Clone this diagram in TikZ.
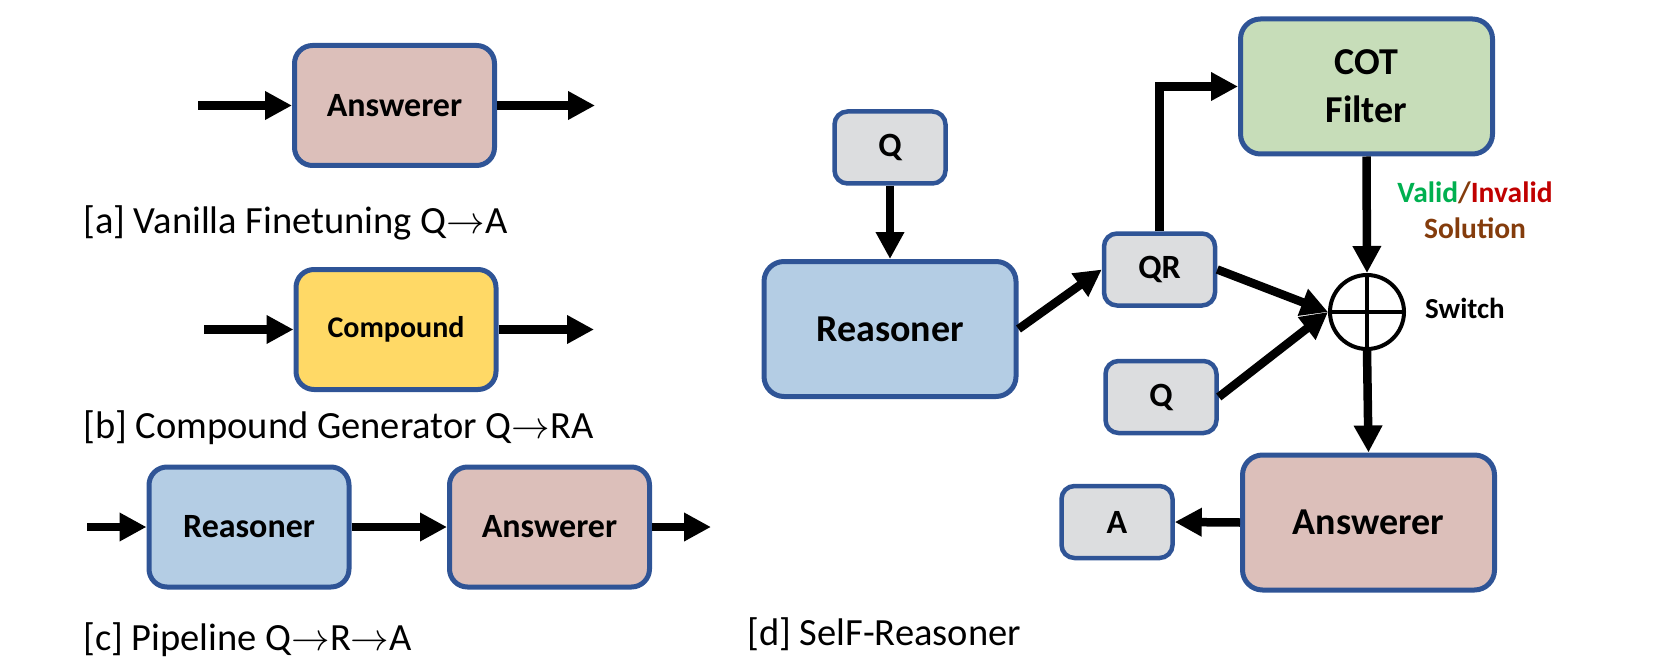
\RequirePackage{fix-cm}
\documentclass[tikz,border=0pt]{standalone}
\usepackage{fontspec}
\setmainfont{Carlito}
\usetikzlibrary{arrows.meta,calc}
\definecolor{bord}{HTML}{2F5496}
\definecolor{ansfill}{HTML}{DCBFBA}
\definecolor{compfill}{HTML}{FFD966}
\definecolor{reasfill}{HTML}{B4CDE4}
\definecolor{cotfill}{HTML}{C7DDB9}
\definecolor{grayfill}{HTML}{DCDDDF}
\definecolor{vgreen}{HTML}{00B050}
\definecolor{ired}{HTML}{C00000}
\definecolor{sbrown}{HTML}{843C0C}
\begin{document}
\begin{tikzpicture}[x=1pt,y=-1pt,
  box/.style={draw=bord,line width=5pt,rounded corners=18pt,inner sep=0pt,
    minimum width=200pt,minimum height=120pt,
    font=\bfseries\fontsize{34}{40}\selectfont},
  bigbox/.style={box,rounded corners=20pt,minimum width=252pt,minimum height=135pt,
    font=\bfseries\fontsize{38}{44}\selectfont},
  smallbox/.style={draw=bord,line width=4.5pt,rounded corners=13pt,inner sep=0pt,
    fill=grayfill,minimum width=111pt,minimum height=72pt,
    font=\bfseries\fontsize{34}{40}\selectfont},
  arr/.style={line width=8.5pt,line join=miter,-{Triangle[length=27pt,width=27pt]}},
  captext/.style={anchor=base west,inner sep=0pt,font=\fontsize{38.5}{44}\selectfont},
  lab/.style={inner sep=0pt,font=\bfseries\fontsize{29.5}{36}\selectfont}
]
\useasboundingbox (0,0) rectangle (1661,671);

% ---- panel a
\node[box,fill=ansfill] (ansA) at (394.5,105.5) {Answerer};
\coordinate (ainA) at (198,105.5);
\coordinate (aoutA) at (595,105.5);
\draw[arr] (ainA) -- (ansA.west);
\draw[arr] (ansA.east) -- (aoutA);
\node[captext] (capa) at (83,233) {[a] Vanilla Finetuning Q$\rightarrow$A};

% ---- panel b
\node[box,fill=compfill,font=\bfseries\fontsize{30}{36}\selectfont] (comp) at (396,329.5) {Compound};
\coordinate (binB) at (204,329.5);
\coordinate (boutB) at (594,329.5);
\draw[arr] (binB) -- (comp.west);
\draw[arr] (comp.east) -- (boutB);
\node[captext] (capb) at (83,438) {[b] Compound Generator Q$\rightarrow$RA};

% ---- panel c
\node[box,fill=reasfill] (reasC) at (249,527) {Reasoner};
\node[box,fill=ansfill] (ansC) at (549.5,527) {Answerer};
\coordinate (cinC) at (87,527);
\coordinate (coutC) at (711,527);
\draw[arr] (cinC) -- (reasC.west);
\draw[arr] (reasC.east) -- (ansC.west);
\draw[arr] (ansC.east) -- (coutC);
\node[captext] (capc) at (83,650) {[c] Pipeline Q$\rightarrow$R$\rightarrow$A};

% ---- panel d
\node[smallbox] (q1) at (890,147.5) {Q};
\node[bigbox,fill=reasfill] (reasD) at (890,329) {Reasoner};
\node[smallbox] (qr) at (1159.5,269.5) {QR};
\node[smallbox] (q2) at (1161,397) {Q};
\node[bigbox,fill=cotfill,align=center,font=\bfseries\fontsize{38}{48}\selectfont] (cot) at (1366.5,86.5) {COT\\Filter};
\node[circle,draw,line width=4pt,minimum size=74pt,inner sep=0pt] (sw) at (1367,312) {};
\draw[line width=4pt] (sw.north) -- (sw.south);
\draw[line width=4pt] (sw.west) -- (sw.east);
\node[bigbox,fill=ansfill] (ansD) at (1368.5,522.5) {Answerer};
\node[smallbox] (aD) at (1117,522) {A};

\draw[arr] (q1.south) -- (reasD.north);
\draw[arr] (reasD.east) -- (qr.west);
\draw[arr] (qr.north) |- (cot.west);
\draw[arr] (qr.east) -- (sw.west);
\draw[arr] (q2.east) -- (sw.west);
\draw[arr] (cot.south) -- (sw.north);
\draw[arr] (sw.south) -- (ansD.north);
\draw[arr] (ansD.west) -- (aD.east);

\node[lab,anchor=base] (vl) at (1475,202) {\textcolor{vgreen}{Valid}\textcolor{sbrown}{/}\textcolor{ired}{Invalid}};
\node[lab,anchor=base] (sol) at (1475,238) {\textcolor{sbrown}{Solution}};
\node[lab,anchor=base west,font=\bfseries\fontsize{29}{34}\selectfont] (swl) at (1425,318) {Switch};

\node[captext] (capd) at (747,645) {[d] SelF-Reasoner};
\end{tikzpicture}
\end{document}
